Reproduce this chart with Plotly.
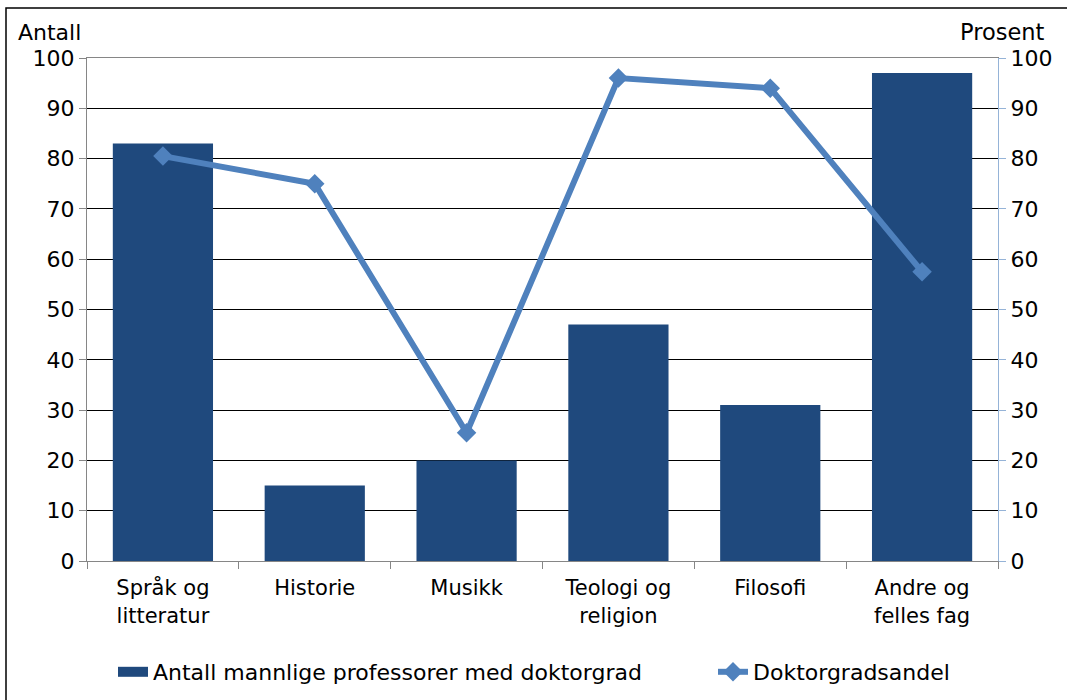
import plotly.graph_objects as go

categories = ["Språk og<br>litteratur", "Historie", "Musikk", "Teologi og<br>religion", "Filosofi", "Andre og<br>felles fag"]
antall = [83, 15, 20, 47, 31, 97]
andel = [80.5, 75, 25.5, 96, 94, 57.5]
ticks = [0, 10, 20, 30, 40, 50, 60, 70, 80, 90, 100]

bar_name = "Antall mannlige professorer med doktorgrad"
line_name = "Doktorgradsandel"

FONT = "DejaVu Sans"
BAR_COLOR = "#1F497D"
LINE_COLOR = "#4F81BD"

fig = go.Figure()
fig.add_trace(go.Bar(
    x=categories, y=antall, name=bar_name,
    marker=dict(color=BAR_COLOR, line=dict(width=0)),
    yaxis="y", showlegend=False, legendgroup="bar",
))
# legend-only entry to show a wide rectangular swatch for the bar series
fig.add_trace(go.Scatter(
    x=[None], y=[None], name=bar_name, mode="lines",
    line=dict(color=BAR_COLOR, width=10), legendgroup="bar",
    yaxis="y", legendwidth=555,
))
fig.add_trace(go.Scatter(
    x=categories, y=andel, name=line_name, mode="lines+markers",
    line=dict(color=LINE_COLOR, width=6),
    marker=dict(symbol="diamond", size=15, color=LINE_COLOR),
    yaxis="y2",
))

W, H = 1067, 700
L, R, T, B = 87, 69, 58, 139
pw, ph = W - L - R, H - T - B

def px_to_paper_x(px):
    return (px - L) / pw

def px_to_paper_y(py):
    return (H - B - py) / ph

fig.update_layout(
    width=W, height=H,
    margin=dict(l=L, r=R, t=T, b=B, pad=0, autoexpand=False),
    paper_bgcolor="white", plot_bgcolor="white",
    font=dict(family=FONT, size=22, color="#000000"),
    bargap=0.34,
    showlegend=True,
    legend=dict(
        orientation="h", x=px_to_paper_x(113), xanchor="left", y=px_to_paper_y(672), yanchor="middle",
        font=dict(size=22, family=FONT), traceorder="normal",
    ),
    xaxis=dict(
        type="category", showgrid=False, showline=True, linecolor="#868686", linewidth=1,
        mirror=True,
        ticks="outside", ticklen=7, tickcolor="#868686", tickson="boundaries",
        tickfont=dict(size=21, family=FONT), ticklabelstandoff=8,
    ),
    yaxis=dict(
        range=[0, 100], tickvals=ticks, showgrid=True, gridcolor="#000000", gridwidth=1,
        showline=True, linecolor="#868686", linewidth=1,
        ticks="outside", ticklen=7, tickcolor="#868686",
        tickfont=dict(size=22, family=FONT), zeroline=False,
    ),
    yaxis2=dict(
        range=[0, 100], tickvals=ticks, overlaying="y", side="right", showgrid=False,
        showline=True, linecolor="#95B3D7", linewidth=1,
        ticks="outside", ticklen=7, tickcolor="#95B3D7",
        tickfont=dict(size=22, family=FONT), zeroline=False,
    ),
    annotations=[
        dict(text="Antall", xref="paper", yref="paper", x=px_to_paper_x(16), y=px_to_paper_y(32),
             xanchor="left", yanchor="middle", showarrow=False, font=dict(size=22, family=FONT)),
        dict(text="Prosent", xref="paper", yref="paper", x=px_to_paper_x(1047), y=px_to_paper_y(32),
             xanchor="right", yanchor="middle", showarrow=False, font=dict(size=22.5, family=FONT)),
    ],
    shapes=[
        dict(type="rect", xref="paper", yref="paper",
             x0=px_to_paper_x(6), x1=px_to_paper_x(1070), y0=px_to_paper_y(705), y1=px_to_paper_y(8),
             line=dict(color="#000000", width=1.5), fillcolor="rgba(0,0,0,0)", layer="below"),
    ],
)

fig.write_html(
    "out.html",
    config={"displayModeBar": False},
    post_script="document.body.style.margin='0';document.body.style.overflow='hidden';",
)
